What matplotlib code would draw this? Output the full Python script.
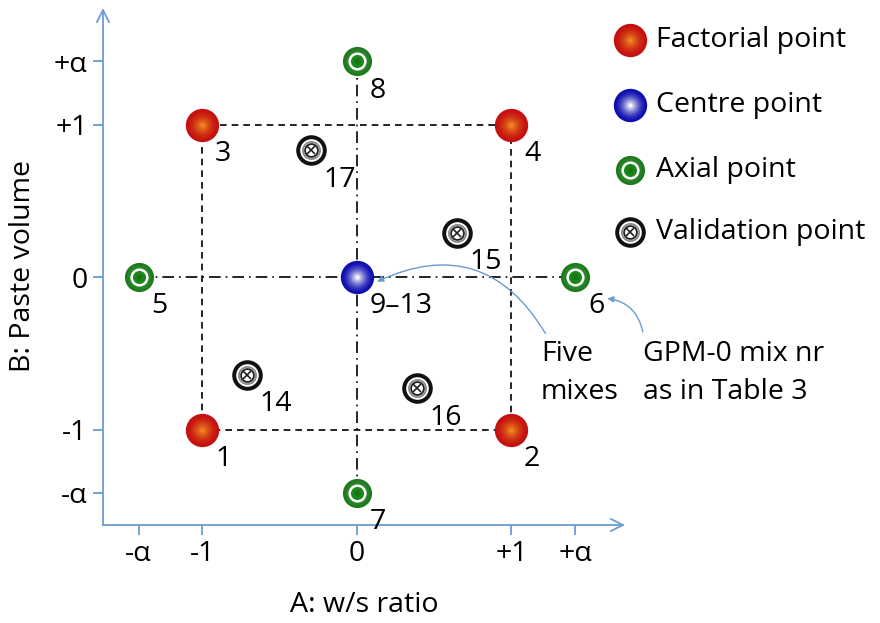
import numpy as np
import matplotlib
matplotlib.use("Agg")
import matplotlib.pyplot as plt
from matplotlib.colors import to_rgb

plt.rcParams['font.family'] = ['Open Sans', 'DejaVu Sans']

ALPHA = 1.414

# design points (coded units)
fact_x = [-1, 1, -1, 1]
fact_y = [-1, -1, 1, 1]
fact_lbl = ['1', '2', '3', '4']

axial_x = [-ALPHA, ALPHA, 0, 0]
axial_y = [0, 0, -ALPHA, ALPHA]
axial_lbl = ['5', '6', '7', '8']

centre_x = [0]
centre_y = [0]
centre_lbl = ['9–13']

valid_x = [-0.71, 0.65, 0.39, -0.30]
valid_y = [-0.64, 0.29, -0.73, 0.83]
valid_lbl = ['14', '15', '16', '17']

tick_vals = [-ALPHA, -1, 0, 1, ALPHA]
tick_lbls = ['-α', '-1', '0', '+1', '+α']

legend_names = ['Factorial point', 'Centre point', 'Axial point', 'Validation point']

AXIS_BLUE = '#6b9bd2'
FS = 20.5


def blend(c1, c2, t):
    a, b = np.array(to_rgb(c1)), np.array(to_rgb(c2))
    return tuple(a + (b - a) * t)


def sphere(ax, x, y, d, edge, centre, z=5, n=12):
    # fake radial shading with stacked discs
    for i in range(n):
        f = 1 - i / n
        ax.plot(x, y, 'o', ms=d * f, mew=0, color=blend(edge, centre, (i / (n - 1)) ** 1.6),
                zorder=z, clip_on=False, ls='none')


def axial(ax, x, y, d, z=5):
    sphere(ax, x, y, d, '#1d7a1d', '#9fd79f', z, n=6)
    ax.plot(x, y, 'o', ms=d * 0.62, mew=0, color='white', zorder=z + 1, clip_on=False, ls='none')
    sphere(ax, x, y, d * 0.45, '#1b8a1b', '#137013', z + 2, n=4)


def validation(ax, x, y, d, z=5):
    ax.plot(x, y, 'o', ms=d, mew=0, color='#111111', zorder=z, clip_on=False, ls='none')
    ax.plot(x, y, 'o', ms=d * 0.74, mew=0, color='white', zorder=z + 1, clip_on=False, ls='none')
    ax.plot(x, y, 'o', ms=d * 0.62, mew=0, color='#8a8a8a', zorder=z + 2, clip_on=False, ls='none')
    ax.plot(x, y, 'o', ms=d * 0.50, mew=0, color='white', zorder=z + 3, clip_on=False, ls='none')
    ax.plot(x, y, 'o', ms=d * 0.42, mfc='none', mec='#222222', mew=1.3, zorder=z + 4,
            clip_on=False, ls='none')
    ax.plot(x, y, 'x', ms=d * 0.28, mec='#222222', mew=1.2, zorder=z + 4, clip_on=False, ls='none')


def draw_marker(ax, kind, x, y):
    if kind == 'fact':
        sphere(ax, x, y, 24, '#c41010', '#f08a20')
    elif kind == 'centre':
        sphere(ax, x, y, 24, '#0c0cb0', '#ffffff')
    elif kind == 'axial':
        axial(ax, x, y, 21)
    else:
        validation(ax, x, y, 22)


fig = plt.figure(figsize=(8.8, 6.23), dpi=100)
ax = fig.add_axes([103 / 880, 1 - 525 / 623, (625 - 103) / 880, (525 - 8) / 623])
ax.set_xlim(-1.644, 1.735)
ax.set_ylim(-1.626, 1.764)
for s in ax.spines.values():
    s.set_visible(False)

# axis lines with open arrow heads
ax.annotate('', xy=(1, 0), xytext=(0, 0), xycoords='axes fraction',
            arrowprops=dict(arrowstyle='->', color=AXIS_BLUE, lw=1.3, mutation_scale=22,
                            shrinkA=0, shrinkB=0))
ax.annotate('', xy=(0, 1), xytext=(0, 0), xycoords='axes fraction',
            arrowprops=dict(arrowstyle='->', color=AXIS_BLUE, lw=1.3, mutation_scale=22,
                            shrinkA=0, shrinkB=0))

ax.set_xticks(tick_vals, tick_lbls)
ax.set_yticks(tick_vals, tick_lbls)
ax.tick_params(direction='out', length=7, width=1.3, color=AXIS_BLUE, labelsize=FS, pad=4)
ax.set_xlabel('A: w/s ratio', fontsize=FS, labelpad=16)
ax.set_ylabel('B: Paste volume', fontsize=FS, labelpad=12)

# factorial square
sq_x = [-1, 1, 1, -1, -1]
sq_y = [-1, -1, 1, 1, -1]
ax.plot(sq_x, sq_y, color='black', lw=1.2, ls=(0, (4, 3)), zorder=2)
# axial cross
ax.plot([-ALPHA, ALPHA], [0, 0], color='black', lw=1.2, ls=(0, (7, 3, 1, 3)), zorder=2)
ax.plot([0, 0], [-ALPHA, ALPHA], color='black', lw=1.2, ls=(0, (7, 3, 1, 3)), zorder=2)

groups = [('fact', fact_x, fact_y, fact_lbl),
          ('centre', centre_x, centre_y, centre_lbl),
          ('axial', axial_x, axial_y, axial_lbl),
          ('valid', valid_x, valid_y, valid_lbl)]

for kind, xs, ys, lbls in groups:
    for x, y, t in zip(xs, ys, lbls):
        draw_marker(ax, kind, x, y)
        ax.annotate(t, (x, y), xytext=(9, -11), textcoords='offset points',
                    fontsize=FS, ha='left', va='top', zorder=10)

# legend drawn by hand to the right of the plot
leg_x = 1.767
leg_y = [1.554, 1.128, 0.702, 0.295]
for (kind, *_), name, ly in zip(groups, legend_names, leg_y):
    draw_marker(ax, kind, leg_x, ly)
    ax.text(leg_x + 0.17, ly, name, fontsize=FS, va='center', ha='left', clip_on=False)

# callouts
ax.text(1.19, -0.63, 'Five\nmixes', fontsize=FS, ha='left', va='center', linespacing=1.45)
ax.annotate('', xy=(0.13, -0.03), xytext=(1.22, -0.37),
            arrowprops=dict(arrowstyle='-|>', color=AXIS_BLUE, lw=1.0, mutation_scale=9,
                            connectionstyle='arc3,rad=0.45', shrinkA=0, shrinkB=0))
ax.text(1.85, -0.63, 'GPM-0 mix nr\nas in Table 3', fontsize=FS, ha='left', va='center',
        linespacing=1.45, clip_on=False)
ax.annotate('', xy=(1.62, -0.14), xytext=(1.85, -0.36),
            arrowprops=dict(arrowstyle='-|>', color=AXIS_BLUE, lw=1.0, mutation_scale=9,
                            connectionstyle='arc3,rad=0.35', shrinkA=0, shrinkB=0),
            annotation_clip=False)

fig.savefig('out.png', dpi=100)
